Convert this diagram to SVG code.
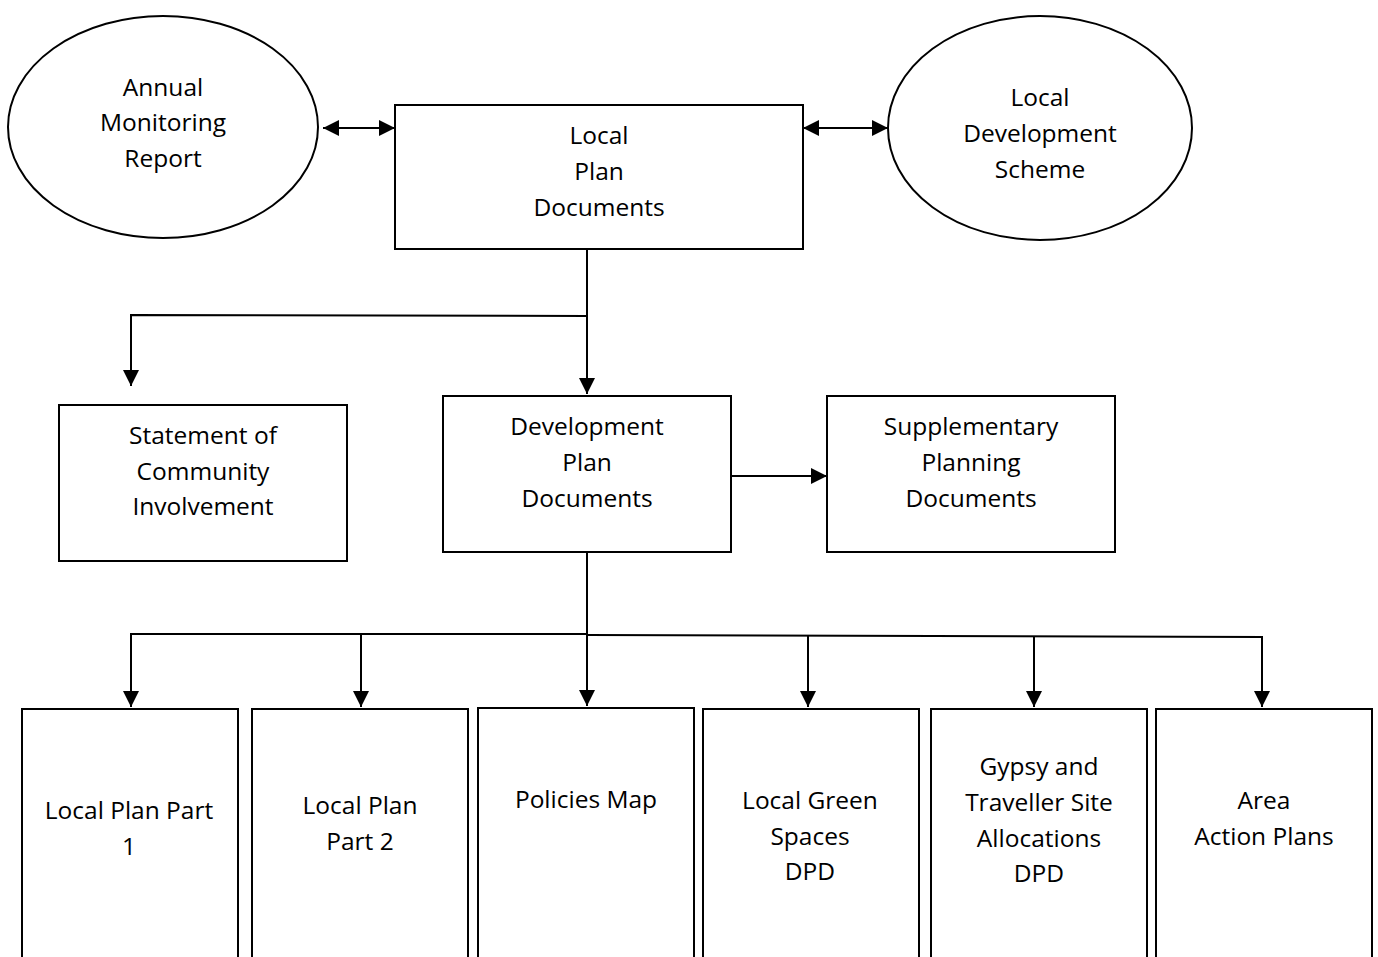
<svg xmlns="http://www.w3.org/2000/svg" width="1378" height="957" viewBox="0 0 1378 957">
<style>
.n{fill:#fff;stroke:#000;stroke-width:2}
.t{font-family:"Open Sans","Liberation Sans",sans-serif;font-size:24.5px;fill:#000;text-anchor:middle}
.c{fill:none;stroke:#000;stroke-width:2}
</style>
<defs>
<marker id="a" viewBox="0 0 10 10" refX="10" refY="5" markerWidth="16" markerHeight="16" markerUnits="userSpaceOnUse" orient="auto-start-reverse"><path d="M0,0L10,5L0,10Z" fill="#000"/></marker>
</defs>
<rect width="1378" height="957" fill="#fff"/>
<g id="connectors">
<line class="c" x1="323" y1="128" x2="395" y2="128" marker-start="url(#a)" marker-end="url(#a)"/>
<line class="c" x1="803" y1="128" x2="888" y2="128" marker-start="url(#a)" marker-end="url(#a)"/>
<line class="c" x1="587" y1="249" x2="587" y2="394" marker-end="url(#a)"/>
<polyline class="c" points="587,316 131,315 131,386" marker-end="url(#a)"/>
<line class="c" x1="731" y1="476" x2="827" y2="476" marker-end="url(#a)"/>
<line class="c" x1="587" y1="552" x2="587" y2="634"/>
<polyline class="c" points="587,634 131,634 131,707" marker-end="url(#a)"/>
<polyline class="c" points="587,635 1262,637 1262,707" marker-end="url(#a)"/>
<line class="c" x1="361" y1="635" x2="361" y2="707" marker-end="url(#a)"/>
<line class="c" x1="587" y1="635" x2="587" y2="706" marker-end="url(#a)"/>
<line class="c" x1="808" y1="636" x2="808" y2="707" marker-end="url(#a)"/>
<line class="c" x1="1034" y1="636" x2="1034" y2="707" marker-end="url(#a)"/>
</g>
<g id="amr"><ellipse class="n" cx="163" cy="127" rx="155" ry="111"/>
<text class="t" x="163" y="96">Annual</text><text class="t" x="163" y="131">Monitoring</text><text class="t" x="163" y="167">Report</text></g>
<g id="lds"><ellipse class="n" cx="1040" cy="128" rx="152" ry="112"/>
<text class="t" x="1040" y="106">Local</text><text class="t" x="1040" y="142">Development</text><text class="t" x="1040" y="178">Scheme</text></g>
<g id="lpd"><rect class="n" x="395" y="105" width="408" height="144"/>
<text class="t" x="599" y="144">Local</text><text class="t" x="599" y="180">Plan</text><text class="t" x="599" y="216">Documents</text></g>
<g id="sci"><rect class="n" x="59" y="405" width="288" height="156"/>
<text class="t" x="203" y="444">Statement of</text><text class="t" x="203" y="480">Community</text><text class="t" x="203" y="515">Involvement</text></g>
<g id="dpd"><rect class="n" x="443" y="396" width="288" height="156"/>
<text class="t" x="587" y="435">Development</text><text class="t" x="587" y="471">Plan</text><text class="t" x="587" y="507">Documents</text></g>
<g id="spd"><rect class="n" x="827" y="396" width="288" height="156"/>
<text class="t" x="971" y="435">Supplementary</text><text class="t" x="971" y="471">Planning</text><text class="t" x="971" y="507">Documents</text></g>
<g id="lp1"><rect class="n" x="22" y="709" width="216" height="260"/>
<text class="t" x="129" y="819">Local Plan Part</text><text class="t" x="129" y="855">1</text></g>
<g id="lp2"><rect class="n" x="252" y="709" width="216" height="260"/>
<text class="t" x="360" y="814">Local Plan</text><text class="t" x="360" y="850">Part 2</text></g>
<g id="pm"><rect class="n" x="478" y="708" width="216" height="260"/>
<text class="t" x="586" y="808">Policies Map</text></g>
<g id="lgs"><rect class="n" x="703" y="709" width="216" height="260"/>
<text class="t" x="810" y="809">Local Green</text><text class="t" x="810" y="845">Spaces</text><text class="t" x="810" y="880">DPD</text></g>
<g id="gts"><rect class="n" x="931" y="709" width="216" height="260"/>
<text class="t" x="1039" y="775">Gypsy and</text><text class="t" x="1039" y="811">Traveller Site</text><text class="t" x="1039" y="847">Allocations</text><text class="t" x="1039" y="882">DPD</text></g>
<g id="aap"><rect class="n" x="1156" y="709" width="216" height="260"/>
<text class="t" x="1264" y="809">Area</text><text class="t" x="1264" y="845">Action Plans</text></g>
</svg>
